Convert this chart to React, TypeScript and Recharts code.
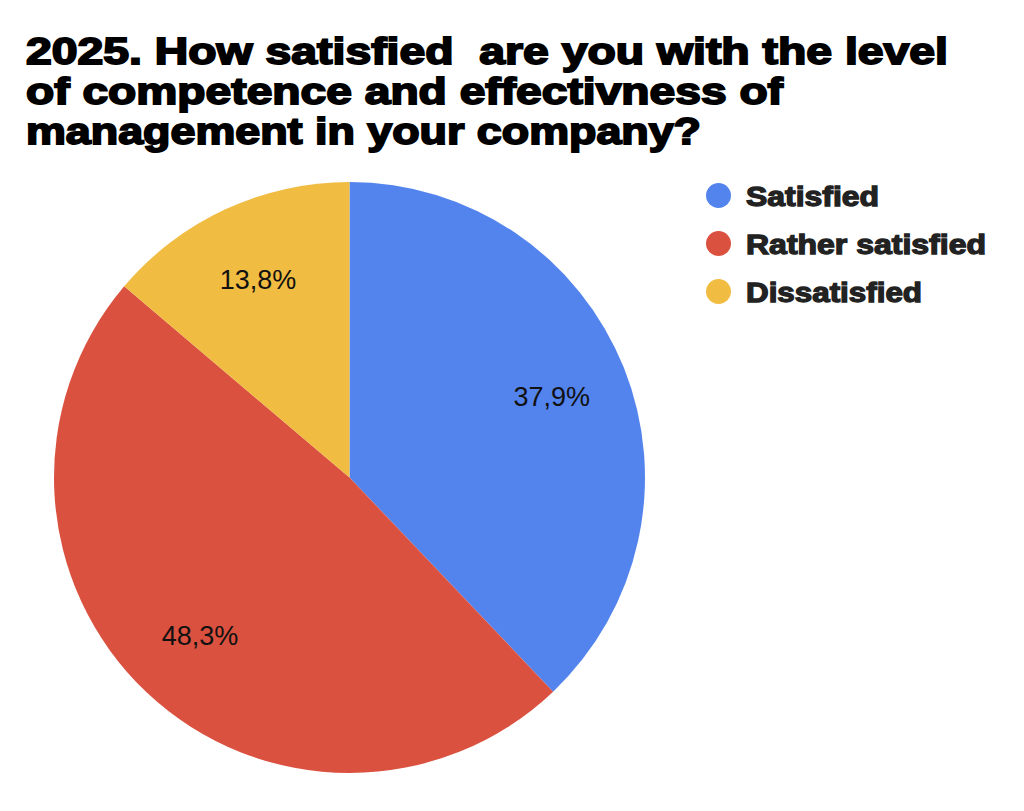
import React from "react";
import { PieChart, Pie, Cell, Legend } from "recharts";

const categories = ["Satisfied", "Rather satisfied", "Dissatisfied"];
const values = [37.9, 48.3, 13.8];
const valueLabels = ["37,9%", "48,3%", "13,8%"];
const colors = ["#5384ED", "#DB5140", "#F1BC42"];
const titleLines = [
  "2025. How satisfied  are you with the level",
  "of competence and effectivness of",
  "management in your company?",
];
const titleWidths = [922, 757, 675];
const legendWidths = [133, 240, 176];

const data = categories.map((name, i) => ({ name, value: values[i], label: valueLabels[i] }));

const RAD = Math.PI / 180;

const renderLabel = (props: any) => {
  const { cx, cy, midAngle, outerRadius, index } = props;
  const r = outerRadius * 0.737;
  const x = cx + r * Math.cos(-midAngle * RAD);
  const y = cy + r * Math.sin(-midAngle * RAD);
  return (
    <text
      x={x}
      y={y + 9.6}
      textAnchor="middle"
      fontFamily="'Liberation Sans', Arial, sans-serif"
      fontSize={27}
      fill="#111"
    >
      {data[index].label}
    </text>
  );
};

const renderLegend = (props: any) => {
  const payload = [...(props.payload || [])].sort(
    (a: any, b: any) => categories.indexOf(a.value) - categories.indexOf(b.value)
  );
  return (
    <svg width={300} height={130} style={{ overflow: "visible" }}>
      {payload.map((entry: any) => {
        const i = categories.indexOf(entry.value);
        return (
          <g key={entry.value}>
            <circle cx={12.5} cy={12.5 + i * 48} r={12.5} fill={entry.color} />
            <text
              x={40}
              y={22.5 + i * 48}
              fontFamily="'Liberation Sans', Arial, sans-serif"
              fontWeight="bold"
              fontSize={27}
              fill="#222"
              stroke="#222"
              strokeWidth={1.3}
              textLength={legendWidths[i]}
              lengthAdjust="spacingAndGlyphs"
            >
              {entry.value}
            </text>
          </g>
        );
      })}
    </svg>
  );
};

export default function App() {
  return (
    <div style={{ position: "absolute", left: 0, top: 0, width: 1024, height: 811, background: "#fff" }}>
      <PieChart width={1024} height={811} margin={{ top: 0, right: 0, bottom: 0, left: 0 }}>
        <Pie
          data={data}
          dataKey="value"
          nameKey="name"
          cx={349.5}
          cy={477.5}
          outerRadius={295.5}
          startAngle={90}
          endAngle={-270}
          stroke="none"
          labelLine={false}
          label={renderLabel}
          isAnimationActive={false}
        >
          {data.map((d, i) => (
            <Cell key={d.name} fill={colors[i]} />
          ))}
        </Pie>
        <Legend
          content={renderLegend}
          layout="vertical"
          wrapperStyle={{ position: "absolute", left: 706, top: 183, width: 300 }}
        />
      </PieChart>
      <svg
        width={1024}
        height={170}
        style={{ position: "absolute", left: 0, top: 0, pointerEvents: "none" }}
      >
        {titleLines.map((line, i) => (
          <text
            key={i}
            x={26}
            y={64 + i * 40}
            fontFamily="'Liberation Sans', Arial, sans-serif"
            fontWeight="bold"
            fontSize={37}
            fill="#000"
            stroke="#000"
            strokeWidth={1.8}
            textLength={titleWidths[i]}
            lengthAdjust="spacingAndGlyphs"
            style={{ whiteSpace: "pre" }}
          >
            {line}
          </text>
        ))}
      </svg>
    </div>
  );
}
